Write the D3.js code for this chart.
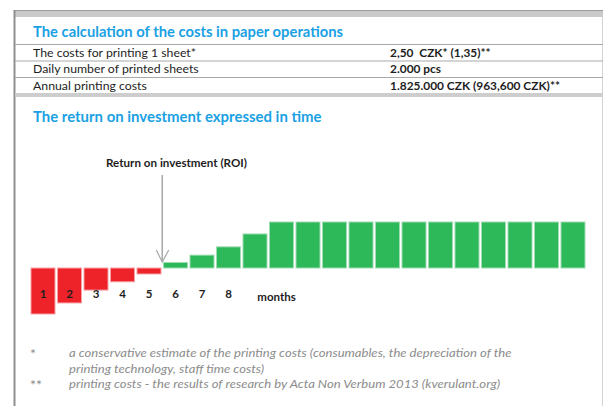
<!DOCTYPE html>
<html>
<head>
<meta charset="utf-8">
<script src="https://cdn.jsdelivr.net/npm/d3@7"></script>
<style>
  body { margin: 0; background: #fff; }
  svg { display: block; font-family: Lato, "Open Sans", sans-serif; }
  text { white-space: pre; }
</style>
</head>
<body>
<div id="chart_area"></div>
<script>
// table data
const costLabels = ["The costs for printing 1 sheet*", "Daily number of printed sheets", "Annual printing costs"];
const costValues = ["2,50  CZK* (1,35)**", "2.000 pcs", "1.825.000 CZK (963,600 CZK)**"];

// chart data (cumulative balance per month, relative units)
const months = ["1","2","3","4","5","6","7","8","9","10","11","12","13","14","15","16","17","18","19","20","21"];
const balance = [-100, -76, -48, -30, -13, 12, 28, 46, 74, 100, 100, 100, 100, 100, 100, 100, 100, 100, 100, 100, 100];
const tickLabels = ["1","2","3","4","5","6","7","8"];
const unitLabel = "months";
const roiLabel = "Return on investment (ROI)";
const roiMonth = "6";

const noteMarks = ["*", "", "**"];
const noteLines = [
  "a conservative estimate of the printing costs (consumables, the depreciation of the",
  "printing technology, staff time costs)",
  "printing costs - the results of research by Acta Non Verbum 2013 (kverulant.org)"
];

const width = 603, height = 406;
const blue = "#1aa1e4", red = "#ee2229", green = "#2db85a";

const svg = d3.select("#chart_area")
  .append("svg")
  .attr("width", width)
  .attr("height", height);

// squeeze text horizontally so that the reference line (index ref) hits the target width
function fitGroup(sel, target, ref = 0) {
  const k = target / sel.nodes()[ref].getComputedTextLength();
  sel.each(function () {
    const w = this.getComputedTextLength();
    d3.select(this).attr("textLength", w * k).attr("lengthAdjust", "spacingAndGlyphs");
  });
}

// frame
svg.append("rect").attr("x", 14).attr("y", 10).attr("width", width - 14).attr("height", 7).attr("fill", "#c9c9c9");
svg.append("line").attr("x1", 14).attr("x2", width).attr("y1", 10.5).attr("y2", 10.5).attr("stroke", "#9d9d9d");
svg.append("line").attr("x1", 14.5).attr("x2", 14.5).attr("y1", 10).attr("y2", height).attr("stroke", "#8f8f8f").attr("stroke-width", 2);
svg.append("line").attr("x1", 602.5).attr("x2", 602.5).attr("y1", 17).attr("y2", height).attr("stroke", "#d3d3d3");
svg.append("rect").attr("x", 15).attr("y", 93).attr("width", width - 15).attr("height", 4).attr("fill", "#cdcdcd");

// title 1
const t1 = svg.append("text")
  .attr("x", 33).attr("y", 36.7)
  .attr("fill", blue).attr("font-size", 14.5).attr("font-weight", "bold")
  .text("The calculation of the costs in paper operations");
fitGroup(t1, 310);

// table rows
const rowTop = [44, 60.5, 77];
svg.append("g").selectAll("line")
  .data(rowTop)
  .join("line")
  .attr("x1", 15).attr("x2", width)
  .attr("y1", d => d + 0.5).attr("y2", d => d + 0.5)
  .attr("stroke", "#a9a9a9");

const labels = svg.append("g").selectAll("text")
  .data(costLabels)
  .join("text")
  .attr("x", 33)
  .attr("y", (d, i) => rowTop[i] + 12.5)
  .attr("font-size", 12)
  .attr("fill", "#1e1e1e")
  .text(d => d);
fitGroup(labels, 163);

const values = svg.append("g").selectAll("text")
  .data(costValues)
  .join("text")
  .attr("x", 390)
  .attr("y", (d, i) => rowTop[i] + 12.5)
  .attr("font-size", 12)
  .attr("font-weight", "bold")
  .attr("fill", "#1e1e1e")
  .text(d => d);
fitGroup(values, 170, 2);

// title 2
const t2 = svg.append("text")
  .attr("x", 33).attr("y", 121.7)
  .attr("fill", blue).attr("font-size", 14.5).attr("font-weight", "bold")
  .text("The return on investment expressed in time");
fitGroup(t2, 288.5);

// X scale
const x = d3.scaleBand()
  .domain(months)
  .range([29.75, 586.25])
  .paddingInner(0.094)
  .paddingOuter(0.047);

// Y scale
const y = d3.scaleLinear()
  .domain([-100, 100])
  .range([314, 222]);

// bars
svg.append("g")
  .selectAll("rect")
  .data(balance)
  .join("rect")
  .attr("x", (d, i) => x(months[i]))
  .attr("width", x.bandwidth())
  .attr("y", d => y(Math.max(0, d)))
  .attr("height", d => Math.abs(y(d) - y(0)))
  .attr("fill", d => d < 0 ? red : green)
  .attr("stroke", d => d < 0 ? "#f7a3a6" : "#9fdcb2")
  .attr("stroke-width", 1);

// month labels
const axis = svg.append("g")
  .attr("transform", "translate(0, 290)")
  .call(d3.axisBottom(x).tickValues(tickLabels).tickSize(0).tickPadding(0));
axis.select(".domain").remove();
axis.selectAll("text")
  .attr("font-family", "Lato, sans-serif")
  .attr("font-size", 11.5)
  .attr("font-weight", "bold")
  .attr("fill", "#1e1e1e");

svg.append("text")
  .attr("x", x("10") + x.bandwidth() / 2 - 5)
  .attr("y", 300.5)
  .attr("text-anchor", "middle")
  .attr("font-size", 11.5)
  .attr("font-weight", "bold")
  .attr("fill", "#1e1e1e")
  .text(unitLabel);

// ROI annotation
const ax = x(roiMonth) - x.step() * x.paddingInner() / 2;
const roi = svg.append("text")
  .attr("x", 106).attr("y", 167.3)
  .attr("font-size", 11.5)
  .attr("font-weight", "bold")
  .attr("fill", "#1e1e1e")
  .text(roiLabel);
fitGroup(roi, 141);

const tip = y(0) - 6;
svg.append("line")
  .attr("x1", ax).attr("x2", ax).attr("y1", 175).attr("y2", tip)
  .attr("stroke", "#a8a8a8").attr("stroke-width", 1.5);
svg.append("path")
  .attr("d", `M${ax - 6},${tip - 12}L${ax},${tip}L${ax + 6.5},${tip - 12}`)
  .attr("fill", "none").attr("stroke", "#a8a8a8").attr("stroke-width", 1.2);

// footnotes
const noteY = [357, 372.5, 388];
svg.append("g").selectAll("text")
  .data(noteMarks)
  .join("text")
  .attr("x", 30).attr("y", (d, i) => noteY[i] + 2)
  .attr("font-size", 14).attr("fill", "#8c8c8c")
  .text(d => d);
const noteText = svg.append("g").selectAll("text")
  .data(noteLines)
  .join("text")
  .attr("x", 69).attr("y", (d, i) => noteY[i])
  .attr("font-size", 11.5).attr("font-style", "italic").attr("fill", "#8c8c8c")
  .text(d => d);
fitGroup(noteText, 442.5);
</script>
</body>
</html>
